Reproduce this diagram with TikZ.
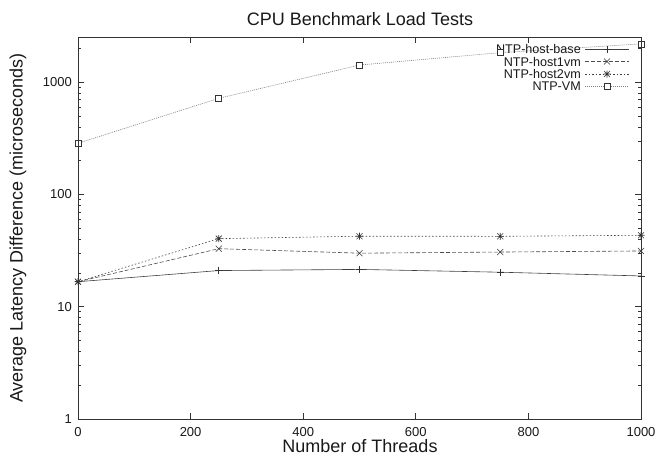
\documentclass[tikz,border=0pt]{standalone}
\usepackage{fontspec}
\setmainfont{Liberation Sans}
% data point: name, threads, latency (log y axis)
\newcommand\datapt[3]{\coordinate (#1) at ({78+0.563*#2},{418.9-112.2*log10(#3)});}
\begin{document}
\begin{tikzpicture}[x=1pt,y=-1pt,
  frame/.style={draw=black!80, line width=0.8pt},
  tickline/.style={draw=black!80, line width=0.7pt},
  ticklabel/.style={font=\fontsize{13}{13}\selectfont, inner sep=0pt, text=black!90},
  legendtext/.style={font=\fontsize{12.6}{12.6}\selectfont, inner sep=0pt, text=black!90},
  axislabel/.style={font=\fontsize{18}{18}\selectfont, inner sep=0pt, text=black!90},
  basecurve/.style={draw=black!75, line width=0.6pt},
  onevmcurve/.style={draw=black!70, line width=0.6pt, dash pattern=on 4pt off 2pt},
  twovmcurve/.style={draw=black!75, line width=0.6pt, dash pattern=on 1.5pt off 2pt},
  vmcurve/.style={draw=black!50, line width=0.6pt, dash pattern=on 1pt off 1pt},
  markline/.style={draw=black!80, line width=0.6pt},
  pics/plusmark/.style={code={\draw[markline] (-3.5pt,0pt)--(3.5pt,0pt) (0pt,-3.5pt)--(0pt,3.5pt);}},
  pics/crossmark/.style={code={\draw[markline] (-3pt,-3pt)--(3pt,3pt) (-3pt,3pt)--(3pt,-3pt);}},
  pics/starmark/.style={code={\draw[markline] (-3.5pt,0pt)--(3.5pt,0pt) (0pt,-3.5pt)--(0pt,3.5pt)
      (-3pt,-3pt)--(3pt,3pt) (-3pt,3pt)--(3pt,-3pt);}},
  pics/squaremark/.style={code={\draw[markline, fill=white] (-3pt,-3pt) rectangle (3pt,3pt);}},
]
\useasboundingbox (0,0) rectangle (657,456);

% title and axis labels
\node[axislabel, anchor=base] (title) at (360,25) {CPU Benchmark Load Tests};
\node[axislabel, anchor=base] (xlabel) at (360,452.5) {Number of Threads};
\node[axislabel, rotate=90] (ylabel) at (18,228) {Average Latency Difference (microseconds)};

% x ticks (bottom and top)
\foreach \t in {0,200,...,1000} {
  \pgfmathsetmacro\xx{78+0.563*\t}
  \draw[tickline] (\xx,418.9) -- ++(0,-6) (\xx,37.3) -- ++(0,6);
  \node[ticklabel, anchor=base] at (\xx,436.5) {\t};
}
% y ticks, major (left and right)
\foreach \d/\lab in {0/1,1/10,2/100,3/1000} {
  \pgfmathsetmacro\yy{418.9-112.2*\d}
  \draw[tickline] (78,\yy) -- ++(6,0) (641,\yy) -- ++(-6,0);
  \node[ticklabel, anchor=east] at (72,\yy) {\lab};
}
% y ticks, minor
\foreach \d in {0,1,2,3} {
  \foreach \m in {2,...,9} {
    \pgfmathsetmacro\yy{418.9-112.2*(\d+log10(\m))}
    \ifdim\yy pt>38pt
      \draw[tickline] (78,\yy) -- ++(3,0) (641,\yy) -- ++(-3,0);
    \fi
  }
}

% data
\datapt{b0}{0}{16.7}  \datapt{b1}{250}{21.0} \datapt{b2}{500}{21.5} \datapt{b3}{750}{20.3} \datapt{b4}{1000}{18.8}
\datapt{o0}{0}{16.7}  \datapt{o1}{250}{32.9} \datapt{o2}{500}{30.0} \datapt{o3}{750}{30.7} \datapt{o4}{1000}{31.4}
\datapt{w0}{0}{16.7}  \datapt{w1}{250}{40.4} \datapt{w2}{500}{42.5} \datapt{w3}{750}{42.4} \datapt{w4}{1000}{43.3}
\datapt{v0}{0}{286}   \datapt{v1}{250}{720}  \datapt{v2}{500}{1425} \datapt{v3}{750}{1838} \datapt{v4}{1000}{2200}

\draw[basecurve] (b0) -- (b1) -- (b2) -- (b3) -- (b4);
\draw[onevmcurve] (o0) -- (o1) -- (o2) -- (o3) -- (o4);
\draw[twovmcurve] (w0) -- (w1) -- (w2) -- (w3) -- (w4);
\draw[vmcurve] (v0) -- (v1) -- (v2) -- (v3) -- (v4);

% legend
\node[legendtext, anchor=east] (k1) at (581,49) {NTP-host-base};
\node[legendtext, anchor=east] (k2) at (581,61.5) {NTP-host1vm};
\node[legendtext, anchor=east] (k3) at (581,74) {NTP-host2vm};
\node[legendtext, anchor=east] (k4) at (581,86.5) {NTP-VM};
\coordinate (s1a) at (585,49);   \coordinate (s1b) at (629,49);
\coordinate (s2a) at (585,61.5); \coordinate (s2b) at (629,61.5);
\coordinate (s3a) at (585,74);   \coordinate (s3b) at (629,74);
\coordinate (s4a) at (585,86.5); \coordinate (s4b) at (629,86.5);
\draw[basecurve] (s1a) -- (s1b);
\draw[onevmcurve] (s2a) -- (s2b);
\draw[twovmcurve] (s3a) -- (s3b);
\draw[vmcurve] (s4a) -- (s4b);

% markers
\foreach \p in {b0,b1,b2,b3,b4} \pic at (\p) {plusmark};
\foreach \p in {o0,o1,o2,o3,o4} \pic at (\p) {crossmark};
\foreach \p in {w0,w1,w2,w3,w4} \pic at (\p) {starmark};
\foreach \p in {v0,v1,v2,v3,v4} \pic at (\p) {squaremark};
\pic at (607,49) {plusmark};
\pic at (607,61.5) {crossmark};
\pic at (607,74) {starmark};
\pic at (607,86.5) {squaremark};

% plot frame
\draw[frame] (78,37.3) rectangle (641,418.9);
\end{tikzpicture}
\end{document}
